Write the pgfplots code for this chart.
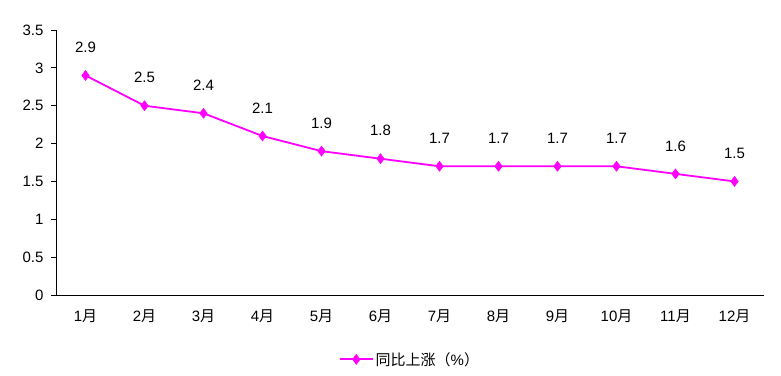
\documentclass[border=0pt]{standalone}
\usepackage{fontspec}
\setmainfont{Liberation Sans}
\newfontfamily\cjk{Noto Sans CJK SC}
\usepackage{pgfplots}
\pgfplotsset{compat=1.18}
\definecolor{mag}{RGB}{255,0,255}
\begin{document}
\begin{tikzpicture}[x=1pt,y=1pt]
\path[use as bounding box] (0,0) rectangle (781,375);
\begin{axis}[
  at={(56pt,80pt)}, anchor=south west,
  scale only axis, width=708pt, height=265pt,
  xmin=0.5, xmax=12.5, ymin=0, ymax=3.5,
  axis x line*=bottom, axis y line*=left,
  axis line style={black, line width=0.8pt, -},
  xtick={1,...,12},
  xticklabels={1{\cjk 月},2{\cjk 月},3{\cjk 月},4{\cjk 月},5{\cjk 月},6{\cjk 月},7{\cjk 月},8{\cjk 月},9{\cjk 月},10{\cjk 月},11{\cjk 月},12{\cjk 月}},
  x tick style={draw=none},
  minor xtick={0.5,1.5,...,12.5},
  minor x tick style={black, line width=0.8pt},
  minor tick length=6pt,
  ytick={0,0.5,...,3.5},
  y tick style={black, line width=0.8pt},
  major tick length=5pt,
  tick align=outside,
  /pgf/number format/assume math mode=true,
  ticklabel style={font=\fontsize{15}{17}\selectfont},
  xticklabel style={yshift=-6pt},
  yticklabel style={xshift=-4pt, /pgf/number format/.cd, fixed, precision=1},
  nodes near coords,
  nodes near coords style={font=\fontsize{15}{17}\selectfont, black, yshift=19pt, /pgf/number format/.cd, fixed, fixed zerofill, precision=1},
  legend style={at={(0.5,-0.2)}, anchor=north, draw=none, font=\fontsize{15}{17}\selectfont, legend cell align=left},
  legend image code/.code={
    \draw[#1, mark=none] (0pt,0pt) -- (33pt,0pt);
    \draw[#1, only marks] plot coordinates {(16.5pt,0pt)};
  },
  clip=false,
]
\addplot[mag, line width=1.8pt, mark=diamond*, mark size=5pt, mark options={fill=mag, draw=mag, line width=0.5pt}]
coordinates {(1,2.9) (2,2.5) (3,2.4) (4,2.1) (5,1.9) (6,1.8) (7,1.7) (8,1.7) (9,1.7) (10,1.7) (11,1.6) (12,1.5)};
\addlegendentry{{\cjk 同比上涨（}\%{\cjk ）}}
\end{axis}
\end{tikzpicture}
\end{document}
